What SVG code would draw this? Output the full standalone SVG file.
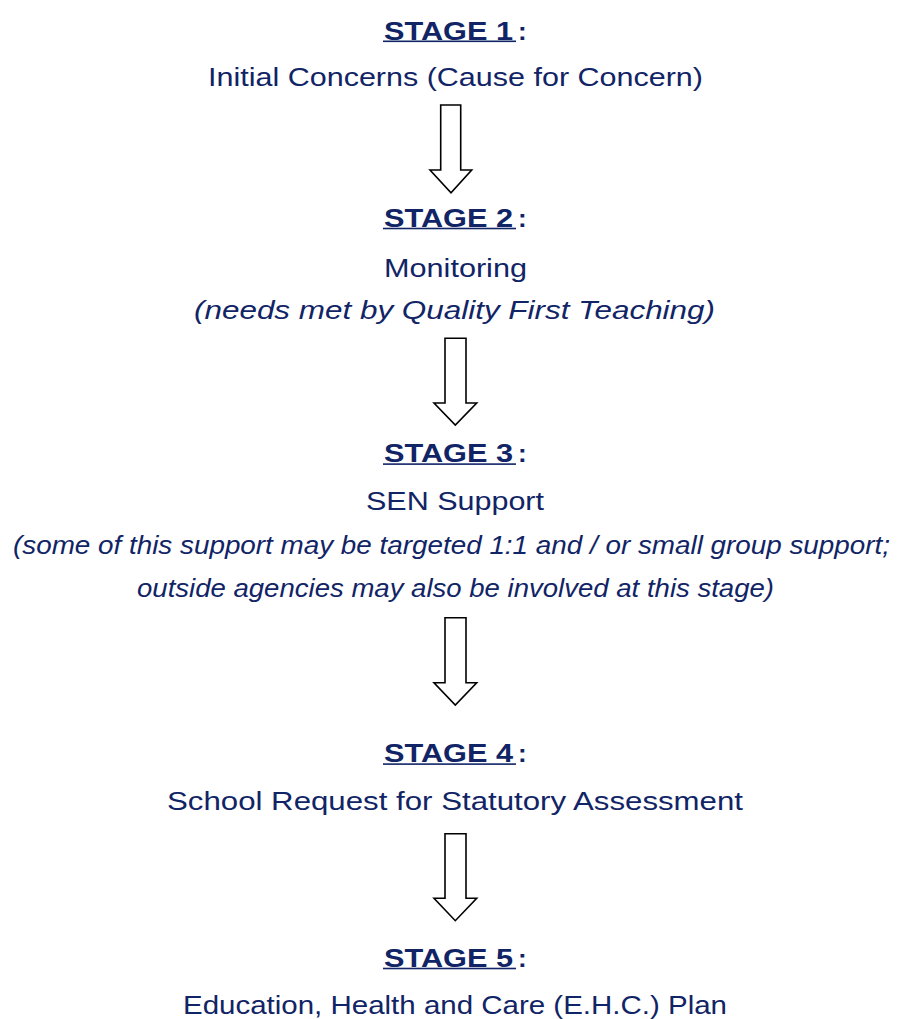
<svg xmlns="http://www.w3.org/2000/svg" width="899" height="1019" viewBox="0 0 899 1019">
<style>
text{font-family:"Liberation Sans","DejaVu Sans",sans-serif;fill:#112466;font-size:26px}
.h{font-weight:bold}
.i{font-style:italic}
.u{fill:#112466}
.arrow{fill:#ffffff;stroke:#000000;stroke-width:1.6;stroke-linejoin:miter}
</style>
<rect width="899" height="1019" fill="#ffffff"/>
<g id="stage1">
<text class="h" x="384" y="39.5" textLength="129" lengthAdjust="spacingAndGlyphs">STAGE 1</text>
<rect class="u" x="383" y="40.5" width="133" height="1.6"/>
<text class="h" x="518" y="39.5">:</text>
<text x="208" y="86" textLength="495" lengthAdjust="spacingAndGlyphs">Initial Concerns (Cause for Concern)</text>
</g>
<g id="stage2">
<text class="h" x="384" y="226.7" textLength="129" lengthAdjust="spacingAndGlyphs">STAGE 2</text>
<rect class="u" x="383" y="227.7" width="133" height="1.6"/>
<text class="h" x="518" y="226.7">:</text>
<text x="384" y="276.7" textLength="143" lengthAdjust="spacingAndGlyphs">Monitoring</text>
<text class="i" x="194" y="319" textLength="521" lengthAdjust="spacingAndGlyphs">(needs met by Quality First Teaching)</text>
</g>
<g id="stage3">
<text class="h" x="384" y="462.3" textLength="129" lengthAdjust="spacingAndGlyphs">STAGE 3</text>
<rect class="u" x="383" y="463.3" width="133" height="1.6"/>
<text class="h" x="518" y="462.3">:</text>
<text x="366" y="510" textLength="178" lengthAdjust="spacingAndGlyphs">SEN Support</text>
<text class="i" x="13" y="554" textLength="877" lengthAdjust="spacingAndGlyphs">(some of this support may be targeted 1:1 and / or small group support;</text>
<text class="i" x="137" y="596.5" textLength="637" lengthAdjust="spacingAndGlyphs">outside agencies may also be involved at this stage)</text>
</g>
<g id="stage4">
<text class="h" x="384" y="762.3" textLength="129" lengthAdjust="spacingAndGlyphs">STAGE 4</text>
<rect class="u" x="383" y="763.3" width="133" height="1.6"/>
<text class="h" x="518" y="762.3">:</text>
<text x="167" y="810" textLength="576" lengthAdjust="spacingAndGlyphs">School Request for Statutory Assessment</text>
</g>
<g id="stage5">
<text class="h" x="384" y="966.7" textLength="129" lengthAdjust="spacingAndGlyphs">STAGE 5</text>
<rect class="u" x="383" y="967.7" width="133" height="1.6"/>
<text class="h" x="518" y="966.7">:</text>
<text x="183" y="1014" textLength="544" lengthAdjust="spacingAndGlyphs">Education, Health and Care (E.H.C.) Plan</text>
</g>
<g id="connectors">
<polygon class="arrow" points="440.7,105 460.7,105 460.7,170 471.7,170 451,192.7 430,170 440.7,170"/>
<polygon class="arrow" points="445,338.3 466,338.3 466,403 476.7,403 455.3,425 434,403 445,403"/>
<polygon class="arrow" points="445,617.7 466,617.7 466,682.7 476.7,682.7 455.3,705 434,682.7 445,682.7"/>
<polygon class="arrow" points="445,833.7 466,833.7 466,898.3 476.7,898.3 455.3,920.7 434,898.3 445,898.3"/>
</g>
</svg>
